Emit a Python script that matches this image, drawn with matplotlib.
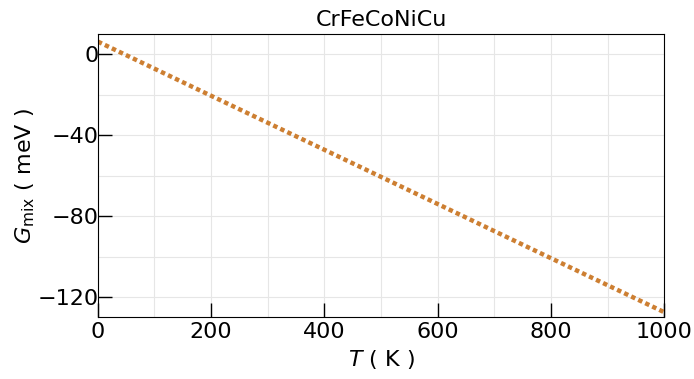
import numpy as np
import matplotlib.pyplot as plt
from matplotlib.ticker import MultipleLocator

# mixing free energy vs temperature
T = np.array([0, 200, 400, 600, 800, 1000])
G_mix = np.array([6.3, -20.5, -47.2, -74.0, -100.8, -127.5])

fig, ax = plt.subplots(figsize=(6.94, 3.79), dpi=100)

ax.plot(T, G_mix, color='#cd7f32', linewidth=3.2, dashes=(1, 0.75),
        dash_capstyle='butt')

ax.set_xlim(0, 1000)
ax.set_ylim(-130, 10)
ax.xaxis.set_major_locator(MultipleLocator(200))
ax.xaxis.set_minor_locator(MultipleLocator(100))
ax.yaxis.set_major_locator(MultipleLocator(40))
ax.yaxis.set_minor_locator(MultipleLocator(20))
ax.grid(which='both', color='#e6e6e6', linewidth=0.8)
ax.set_axisbelow(True)
ax.tick_params(which='major', direction='in', length=10, width=1, labelsize=16)
ax.tick_params(axis='y', which='major', pad=-0.8)
ax.tick_params(which='minor', length=0)

ax.set_title('CrFeCoNiCu', fontsize=16, pad=6)
ax.set_xlabel('$T$ ( K )', fontsize=16)
ax.set_ylabel('$G_{\\mathrm{mix}}$ ( meV )', fontsize=16, labelpad=0.5)

fig.subplots_adjust(left=0.141, right=0.957, top=0.91, bottom=0.163)
fig.savefig('out.png')
